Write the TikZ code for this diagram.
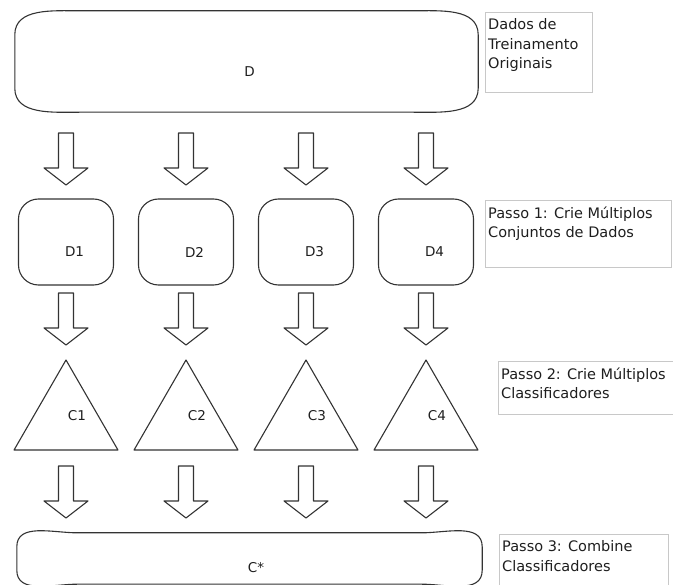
\documentclass[tikz,border=0pt]{standalone}
\usepackage{fontspec}
\usepackage{tikz}
\usetikzlibrary{shapes.geometric}
\newfontfamily\diagfont{DejaVu Sans}

\definecolor{shapeline}{HTML}{333333}
\definecolor{noteline}{HTML}{C8C8C8}
\definecolor{inktext}{HTML}{1E1E1E}

% flat box with wide, low corners
\newcommand{\flatbox}[3]{%
\draw[shape line] ([xshift=#2]#1.north west) -- ([xshift=-#2]#1.north east)
  to[out=0,in=90] ([yshift=-#3]#1.north east) -- ([yshift=#3]#1.south east)
  to[out=-90,in=0] ([xshift=-#2]#1.south east) -- ([xshift=#2]#1.south west)
  to[out=180,in=-90] ([yshift=#3]#1.south west) -- ([yshift=-#3]#1.north west)
  to[out=90,in=180] ([xshift=#2]#1.north west) -- cycle;}

\tikzset{
  shape line/.style={draw=shapeline, line width=1.1pt, line join=round},
  shape text/.style={font=\diagfont\fontsize{13.5pt}{16pt}\selectfont, text=inktext},
  wide box/.style={draw=none, inner sep=0pt},
  set box/.style={shape line, rounded corners=20pt, minimum width=95pt, minimum height=86pt, inner sep=0pt},
  class node/.style={shape line, regular polygon, regular polygon sides=3, minimum size=120pt, inner sep=0pt},
  note box/.style={draw=noteline, line width=1pt, inner sep=0pt, anchor=north west},
  note text/.style={font=\diagfont\fontsize{14.5pt}{19.5pt}\selectfont, text=inktext, align=left,
    inner xsep=3pt, inner ysep=6.5pt, anchor=north west},
  hollow arrow/.pic={
    \draw[shape line] (-7.5,0) -- (-7.5,35) -- (-22,35) -- (0,52) -- (22,35) -- (7.5,35) -- (7.5,0) -- cycle;
  }
}

\begin{document}
\begin{tikzpicture}[x=1pt, y=-1pt]
\useasboundingbox (0,0) rectangle (673,585);
\clip (0,0) rectangle (673,585);

% original data and combined classifier
\node[wide box, minimum width=463pt, minimum height=101pt,
  label={[shape text, xshift=3pt, yshift=-10pt]center:D}] (dset) at (246.5,61.5) {};
\flatbox{dset}{65pt}{24pt}
\node[wide box, minimum width=465pt, minimum height=51pt,
  label={[shape text, xshift=6.5pt, yshift=-9.5pt]center:C*}] (cstar) at (249.5,558.5) {};
\flatbox{cstar}{60pt}{14pt}

% samples and classifiers
\foreach \i in {1,...,4} {
  \node[set box, label={[shape text, xshift=8.5pt, yshift=-10pt]center:D\i}]
    (d\i) at ({66+120*(\i-1)},242) {};
  \node[class node, label={[shape text, xshift=11pt, yshift=4pt]center:C\i}]
    (c\i) at ({66+120*(\i-1)},420) {};
}

% block arrows
\foreach \x in {66,186,306,426}
  \foreach \y in {133,293,466}
    \pic at (\x,\y) {hollow arrow};

% step notes
\node[note box, minimum width=107pt, minimum height=80pt] (note1) at (485,12) {};
\node[note text] at (note1.north west) {Dados de\\Treinamento\\Originais};
\node[note box, minimum width=186pt, minimum height=67pt] (note2) at (485,200) {};
\node[note text] at (note2.north west) {Passo 1: Crie Múltiplos\\Conjuntos de Dados};
\node[note box, minimum width=174.5pt, minimum height=53pt] (note3) at (498,361) {};
\node[note text] at (note3.north west) {Passo 2: Crie Múltiplos\\Classificadores};
\node[note box, minimum width=169pt, minimum height=70pt] (note4) at (499,534) {};
\node[note text] at (note4.north west) {Passo 3: Combine\\Classificadores};
\end{tikzpicture}
\end{document}
